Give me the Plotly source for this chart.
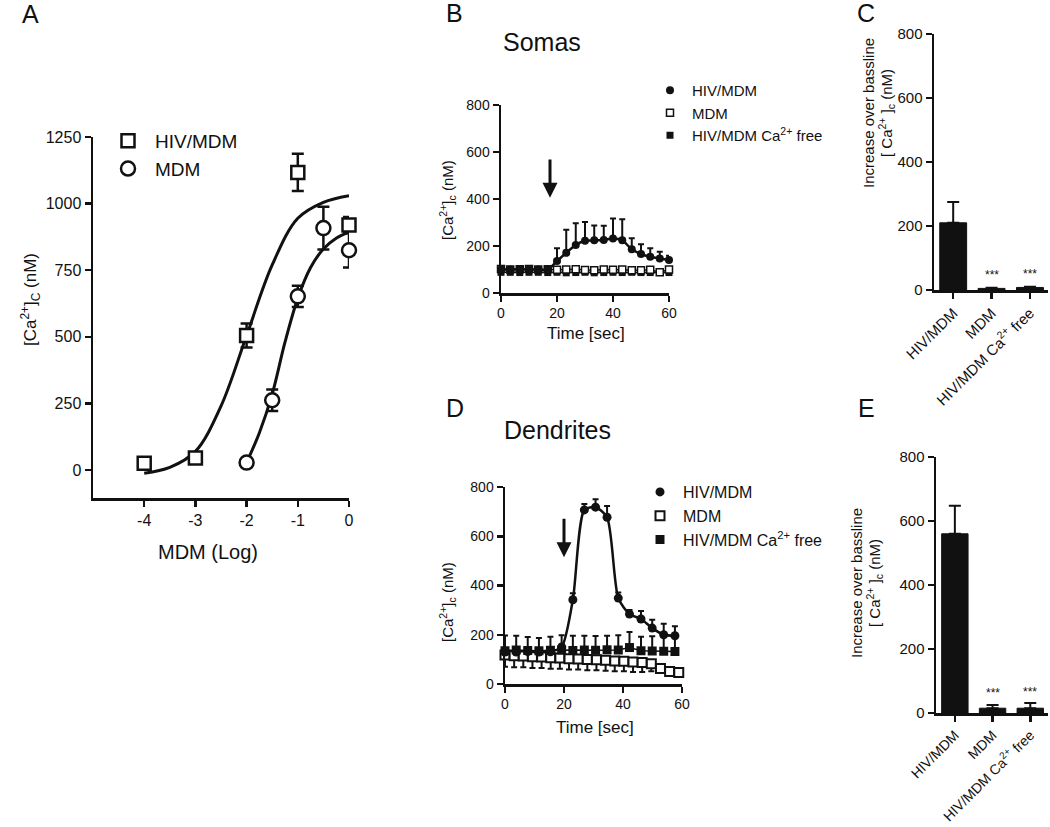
import plotly.graph_objects as go

W, H = 1050, 827
FONT = "Liberation Sans, Arial, sans-serif"
BLACK = "#111111"

# ---------------- Panel A data ----------------
a_x_hiv = [-4, -3, -2, -1, 0]
a_y_hiv = [25, 45, 505, 1117, 920]
a_e_hiv = [0, 0, 45, 70, 30]
a_x_mdm = [-2, -1.5, -1, -0.5, 0]
a_y_mdm = [28, 262, 652, 908, 825]
a_e_mdm = [0, 40, 40, 80, 65]
# fitted curves
a_fit_x_hiv = [-4, -3.5, -3, -2.5, -2, -1.5, -1, -0.5, 0]
a_fit_y_hiv = [-12, 10, 70, 240, 505, 770, 945, 1005, 1030]
a_fit_x_mdm = [-2, -1.75, -1.5, -1.25, -1, -0.75, -0.5, -0.25, 0]
a_fit_y_mdm = [28, 140, 285, 480, 645, 760, 830, 870, 893]

# ---------------- Panel B data (Somas) ----------------
b_time = [0, 3.3, 6.7, 10, 13.3, 16.7, 20, 23.3, 26.7, 30, 33.3, 36.7, 40, 43.3, 46.7, 50, 53.3, 56.7, 60]
b_hiv = [100, 100, 101, 100, 100, 100, 136, 171, 204, 222, 224, 226, 232, 224, 186, 166, 154, 147, 140]
b_hiv_err = [8, 8, 8, 8, 8, 8, 54, 98, 93, 80, 63, 60, 85, 90, 47, 41, 36, 29, 18]
b_mdm = [102, 100, 101, 102, 100, 101, 99, 100, 101, 98, 97, 100, 99, 100, 97, 97, 99, 88, 100]
b_mdm_err = [14, 14, 13, 14, 13, 14, 14, 13, 14, 14, 13, 14, 13, 14, 13, 14, 13, 10, 14]
b_free = [88, 88, 87, 88, 88, 87, 88, 86, 87, 88, 86, 87, 88, 87, 88, 87, 87, 88, 87]
b_free_err = [10, 10, 10, 10, 10, 10, 10, 10, 10, 10, 10, 10, 10, 10, 10, 10, 10, 10, 10]

# ---------------- Panel C data ----------------
cats = ["HIV/MDM", "MDM", "HIV/MDM Ca<sup>2+</sup> free"]
c_vals = [210, 5, 8]
c_err = [65, 2, 2]

# ---------------- Panel D data (Dendrites) ----------------
d_time = [0, 3.8, 7.7, 11.5, 15.4, 19.2, 23.0, 26.9, 30.7, 34.6, 38.4, 42.2, 46.1, 49.9, 53.8, 57.6]
d_hiv = [130, 130, 132, 130, 131, 150, 342, 707, 718, 677, 349, 284, 264, 227, 200, 196]
d_hiv_err = [10, 10, 10, 10, 10, 10, 27, 24, 32, 46, 23, 17, 32, 34, 45, 39]
d_free = [135, 138, 136, 135, 137, 138, 136, 138, 137, 139, 138, 148, 135, 134, 133, 132]
d_free_err = [62, 58, 55, 52, 55, 60, 60, 58, 58, 57, 60, 63, 57, 60, 58, 62]
d_mdm_time = [0, 3.1, 6.2, 9.3, 12.4, 15.5, 18.6, 21.7, 24.8, 27.9, 31.0, 34.1, 37.2, 40.3, 43.4, 46.5, 49.6, 52.7, 55.8, 58.9]
d_mdm = [118, 115, 114, 111, 110, 107, 106, 103, 102, 99, 98, 96, 93, 92, 89, 87, 82, 63, 51, 47]
d_mdm_err = [48, 47, 46, 46, 45, 45, 44, 44, 43, 43, 42, 42, 41, 40, 40, 38, 30, 12, 8, 6]

# ---------------- Panel E data ----------------
e_vals = [560, 15, 15]
e_err = [88, 10, 16]


def px_x(p):
    return p / W


def px_y(p):
    return 1 - p / H


fig = go.Figure()


def line_trace(x, y, xa, ya, width=1.5, spline=False, smoothing=0.8):
    ln = dict(color=BLACK, width=width)
    if spline:
        ln.update(shape="spline", smoothing=smoothing)
    fig.add_trace(go.Scatter(x=x, y=y, mode="lines", line=ln, showlegend=False, hoverinfo="skip",
                             xaxis=xa, yaxis=ya, cliponaxis=False))


# ---- Panel A ----
line_trace(a_fit_x_hiv, a_fit_y_hiv, "x", "y", width=3, spline=True, smoothing=1)
line_trace(a_fit_x_mdm, a_fit_y_mdm, "x", "y", width=3, spline=True, smoothing=1)
fig.add_trace(go.Scatter(x=a_x_hiv, y=a_y_hiv, mode="markers", name="HIV/MDM", cliponaxis=False,
                         marker=dict(symbol="square", size=13, color="white", line=dict(color=BLACK, width=2.5)),
                         error_y=dict(type="data", array=a_e_hiv, color=BLACK, thickness=2.5, width=6),
                         xaxis="x", yaxis="y", legend="legend"))
fig.add_trace(go.Scatter(x=a_x_mdm, y=a_y_mdm, mode="markers", name="MDM", cliponaxis=False,
                         marker=dict(symbol="circle", size=14, color="white", line=dict(color=BLACK, width=2.5)),
                         error_y=dict(type="data", array=a_e_mdm, color=BLACK, thickness=2.5, width=6),
                         xaxis="x", yaxis="y", legend="legend"))

# ---- Panel B ----
zeros_b = [0] * len(b_time)
line_trace(b_time, b_free, "x2", "y2")
line_trace(b_time, b_mdm, "x2", "y2")
line_trace(b_time, b_hiv, "x2", "y2", width=2.5, spline=True, smoothing=0.8)
fig.add_trace(go.Scatter(x=b_time, y=b_free, mode="markers", name="HIV/MDM Ca<sup>2+</sup> free", cliponaxis=False,
                         marker=dict(symbol="square", size=7, color=BLACK),
                         error_y=dict(type="data", array=b_free_err, arrayminus=zeros_b, color=BLACK, thickness=1.5, width=2.5),
                         xaxis="x2", yaxis="y2", legend="legend2", legendrank=3))
fig.add_trace(go.Scatter(x=b_time, y=b_mdm, mode="markers", name="MDM", cliponaxis=False,
                         marker=dict(symbol="square", size=7, color="white", line=dict(color=BLACK, width=1.5)),
                         error_y=dict(type="data", array=zeros_b, arrayminus=b_mdm_err, color=BLACK, thickness=1.5, width=2.5),
                         xaxis="x2", yaxis="y2", legend="legend2", legendrank=2))
fig.add_trace(go.Scatter(x=b_time, y=b_hiv, mode="markers", name="HIV/MDM", cliponaxis=False,
                         marker=dict(symbol="circle", size=8, color=BLACK),
                         error_y=dict(type="data", array=b_hiv_err, arrayminus=zeros_b, color=BLACK, thickness=2, width=3),
                         xaxis="x2", yaxis="y2", legend="legend2", legendrank=1))

# ---- Panel C ----
fig.add_trace(go.Bar(x=[0, 1, 2], y=c_vals, width=0.7, marker=dict(color=BLACK, line=dict(color=BLACK, width=1)),
                     error_y=dict(type="data", array=c_err, arrayminus=[0, 0, 0], color=BLACK, thickness=2, width=6),
                     showlegend=False, xaxis="x3", yaxis="y3"))

# ---- Panel D ----
zeros_d = [0] * len(d_time)
line_trace(d_mdm_time, d_mdm, "x4", "y4")
line_trace(d_time, d_free, "x4", "y4")
line_trace(d_time, d_hiv, "x4", "y4", width=2.5, spline=True, smoothing=0.7)
fig.add_trace(go.Scatter(x=d_mdm_time, y=d_mdm, mode="markers", name="MDM", cliponaxis=False,
                         marker=dict(symbol="square", size=9, color="white", line=dict(color=BLACK, width=2)),
                         error_y=dict(type="data", array=[0] * len(d_mdm_time), arrayminus=d_mdm_err, color=BLACK, thickness=2, width=3),
                         xaxis="x4", yaxis="y4", legend="legend3", legendrank=2))
fig.add_trace(go.Scatter(x=d_time, y=d_free, mode="markers", name="HIV/MDM Ca<sup>2+</sup> free", cliponaxis=False,
                         marker=dict(symbol="square", size=9, color=BLACK),
                         error_y=dict(type="data", array=d_free_err, arrayminus=zeros_d, color=BLACK, thickness=2, width=3),
                         xaxis="x4", yaxis="y4", legend="legend3", legendrank=3))
fig.add_trace(go.Scatter(x=d_time, y=d_hiv, mode="markers", name="HIV/MDM", cliponaxis=False,
                         marker=dict(symbol="circle", size=9, color=BLACK),
                         error_y=dict(type="data", array=d_hiv_err, arrayminus=zeros_d, color=BLACK, thickness=2, width=3),
                         xaxis="x4", yaxis="y4", legend="legend3", legendrank=1))

# ---- Panel E ----
fig.add_trace(go.Bar(x=[0, 1, 2], y=e_vals, width=0.7, marker=dict(color=BLACK, line=dict(color=BLACK, width=1)),
                     error_y=dict(type="data", array=e_err, arrayminus=[0, 0, 0], color=BLACK, thickness=2, width=6),
                     showlegend=False, xaxis="x5", yaxis="y5"))

axis_common = dict(showline=True, linecolor=BLACK, linewidth=2.5, ticks="outside", ticklen=6, tickwidth=2.5,
                   tickcolor=BLACK, showgrid=False, zeroline=False, color=BLACK, automargin=False)

layout = dict(
    width=W, height=H, margin=dict(l=0, r=0, t=0, b=0, autoexpand=False),
    paper_bgcolor="white", plot_bgcolor="white",
    font=dict(family=FONT, color=BLACK),
    # A
    xaxis=dict(domain=[px_x(93), px_x(349)], range=[-5, 0], tickvals=[-4, -3, -2, -1, 0],
               ticktext=["-4", "-3", "-2", "-1", "0"], anchor="y", tickfont=dict(size=16), **axis_common),
    yaxis=dict(domain=[px_y(498), px_y(137)], range=[-105, 1250], tickvals=[0, 250, 500, 750, 1000, 1250],
               anchor="x", tickfont=dict(size=16), **axis_common),
    # B
    xaxis2=dict(domain=[px_x(501), px_x(669)], range=[0, 60], tickvals=[0, 20, 40, 60], anchor="y2",
                tickfont=dict(size=14), **axis_common),
    yaxis2=dict(domain=[px_y(293), px_y(105)], range=[0, 800], tickvals=[0, 200, 400, 600, 800], anchor="x2",
                tickfont=dict(size=14), **axis_common),
    # C
    xaxis3=dict(domain=[px_x(934), px_x(1048)], range=[-0.5, 2.47], tickvals=[0, 1, 2], ticktext=cats,
                tickangle=-45, anchor="y3", tickfont=dict(size=15), **axis_common),
    yaxis3=dict(domain=[px_y(290), px_y(34)], range=[0, 800], tickvals=[0, 200, 400, 600, 800], anchor="x3",
                tickfont=dict(size=15), **axis_common),
    # D
    xaxis4=dict(domain=[px_x(505), px_x(682)], range=[0, 60], tickvals=[0, 20, 40, 60], anchor="y4",
                tickfont=dict(size=14), **axis_common),
    yaxis4=dict(domain=[px_y(684), px_y(487)], range=[0, 800], tickvals=[0, 200, 400, 600, 800], anchor="x4",
                tickfont=dict(size=14), **axis_common),
    # E
    xaxis5=dict(domain=[px_x(936), px_x(1048)], range=[-0.5, 2.47], tickvals=[0, 1, 2], ticktext=cats,
                tickangle=-45, anchor="y5", tickfont=dict(size=14), **axis_common),
    yaxis5=dict(domain=[px_y(713), px_y(457)], range=[0, 800], tickvals=[0, 200, 400, 600, 800], anchor="x5",
                tickfont=dict(size=15), **axis_common),
    legend=dict(x=px_x(101), y=px_y(122), xanchor="left", yanchor="top", bgcolor="rgba(0,0,0,0)",
                font=dict(size=19, color=BLACK), traceorder="normal", itemwidth=44),
    legend2=dict(x=px_x(648), y=px_y(74), xanchor="left", yanchor="top", bgcolor="rgba(0,0,0,0)",
                 font=dict(size=15, color=BLACK), traceorder="normal", itemwidth=34),
    legend3=dict(x=px_x(637), y=px_y(475), xanchor="left", yanchor="top", bgcolor="rgba(0,0,0,0)",
                 font=dict(size=16, color=BLACK), traceorder="normal", itemwidth=36),
    showlegend=True,
)
fig.update_layout(**layout)

ann = []


def txt(x, y, text, size, angle=0, xa="center", ya="middle"):
    ann.append(dict(x=px_x(x), y=px_y(y), xref="paper", yref="paper", text=text, showarrow=False,
                    font=dict(size=size, color=BLACK, family=FONT), textangle=angle, xanchor=xa, yanchor=ya))


# panel letters
txt(30, 14, "A", 25)
txt(454, 13, "B", 25)
txt(866, 13, "C", 25)
txt(455, 408, "D", 25)
txt(866, 408, "E", 25)
# titles
txt(542, 42, "Somas", 25)
txt(557, 430, "Dendrites", 25)
# axis titles
txt(30, 300, "[Ca<sup>2+</sup>]<sub>C</sub> (nM)", 17, -90)
txt(208, 552, "MDM (Log)", 20)
txt(447, 200, "[Ca<sup>2+</sup>]<sub>c</sub> (nM)", 15, -90)
txt(586, 333, "Time [sec]", 17)
txt(447, 602, "[Ca<sup>2+</sup>]<sub>c</sub> (nM)", 15, -90)
txt(595, 727, "Time [sec]", 17)
txt(868, 113, "Increase over bassline", 15, -90)
txt(886, 113, "[ Ca<sup>2+</sup> ]<sub>c</sub> (nM)", 15, -90)
txt(856, 583, "Increase over bassline", 15, -90)
txt(874, 583, "[ Ca<sup>2+</sup> ]<sub>c</sub> (nM)", 15, -90)

# significance stars
for i in [1, 2]:
    ann.append(dict(x=i, y=c_vals[i] + c_err[i] + 12, xref="x3", yref="y3", text="***", showarrow=False,
                    font=dict(size=12, color=BLACK, family=FONT), yanchor="bottom"))
    ann.append(dict(x=i, y=e_vals[i] + e_err[i] + 8, xref="x5", yref="y5", text="***", showarrow=False,
                    font=dict(size=12, color=BLACK, family=FONT), yanchor="bottom"))

# stimulus arrows
ann.append(dict(x=17.5, y=405, ax=17.5, ay=575, xref="x2", yref="y2", axref="x2", ayref="y2", text="",
                showarrow=True, arrowhead=2, arrowsize=1, arrowwidth=3, arrowcolor=BLACK))
ann.append(dict(x=20, y=515, ax=20, ay=677, xref="x4", yref="y4", axref="x4", ayref="y4", text="",
                showarrow=True, arrowhead=2, arrowsize=1, arrowwidth=3, arrowcolor=BLACK))

fig.update_layout(annotations=ann)
fig.write_html("out.html", config={"displayModeBar": False, "staticPlot": True},
               post_script="document.body.style.margin='0';document.body.style.overflow='hidden';")
